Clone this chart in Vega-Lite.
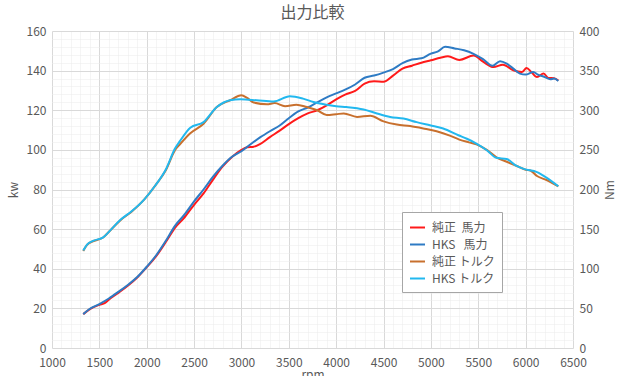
{
  "$schema": "https://vega.github.io/schema/vega-lite/v6.json",
  "width": 521,
  "height": 317,
  "autosize": {"type": "none"},
  "padding": {"left": 52, "top": 31, "right": 54, "bottom": 28},
  "background": "white",
  "title": {"text": "出力比較", "fontSize": 16, "fontWeight": "normal", "color": "#595959", "font": "Noto Sans CJK JP", "offset": 4, "anchor": "middle"},
  "config": {
    "view": {"stroke": null},
    "font": "Noto Sans CJK JP",
    "axis": {"labelFont": "Noto Sans CJK JP", "titleFont": "Noto Sans CJK JP", "labelFontSize": 12, "labelColor": "#595959", "titleFontSize": 12, "titleColor": "#595959", "titleFontWeight": "normal", "domain": false, "ticks": false, "labelOverlap": false, "labelFlush": false}
  },
  "datasets": {
    "power": [
      {"rpm": 1330, "kw": 17.1, "series": "純正\u00a0\u00a0馬力"},
      {"rpm": 1400, "kw": 19.6, "series": "純正\u00a0\u00a0馬力"},
      {"rpm": 1500, "kw": 21.8, "series": "純正\u00a0\u00a0馬力"},
      {"rpm": 1560, "kw": 22.8, "series": "純正\u00a0\u00a0馬力"},
      {"rpm": 1600, "kw": 24.4, "series": "純正\u00a0\u00a0馬力"},
      {"rpm": 1700, "kw": 27.8, "series": "純正\u00a0\u00a0馬力"},
      {"rpm": 1800, "kw": 31.4, "series": "純正\u00a0\u00a0馬力"},
      {"rpm": 1900, "kw": 35.6, "series": "純正\u00a0\u00a0馬力"},
      {"rpm": 2000, "kw": 40.8, "series": "純正\u00a0\u00a0馬力"},
      {"rpm": 2100, "kw": 46.4, "series": "純正\u00a0\u00a0馬力"},
      {"rpm": 2200, "kw": 53.4, "series": "純正\u00a0\u00a0馬力"},
      {"rpm": 2300, "kw": 60.8, "series": "純正\u00a0\u00a0馬力"},
      {"rpm": 2400, "kw": 66.0, "series": "純正\u00a0\u00a0馬力"},
      {"rpm": 2500, "kw": 72.3, "series": "純正\u00a0\u00a0馬力"},
      {"rpm": 2600, "kw": 78.0, "series": "純正\u00a0\u00a0馬力"},
      {"rpm": 2700, "kw": 85.0, "series": "純正\u00a0\u00a0馬力"},
      {"rpm": 2800, "kw": 91.5, "series": "純正\u00a0\u00a0馬力"},
      {"rpm": 2900, "kw": 96.4, "series": "純正\u00a0\u00a0馬力"},
      {"rpm": 3000, "kw": 100.0, "series": "純正\u00a0\u00a0馬力"},
      {"rpm": 3060, "kw": 101.3, "series": "純正\u00a0\u00a0馬力"},
      {"rpm": 3130, "kw": 101.6, "series": "純正\u00a0\u00a0馬力"},
      {"rpm": 3200, "kw": 103.0, "series": "純正\u00a0\u00a0馬力"},
      {"rpm": 3300, "kw": 106.4, "series": "純正\u00a0\u00a0馬力"},
      {"rpm": 3400, "kw": 109.6, "series": "純正\u00a0\u00a0馬力"},
      {"rpm": 3500, "kw": 113.0, "series": "純正\u00a0\u00a0馬力"},
      {"rpm": 3600, "kw": 116.0, "series": "純正\u00a0\u00a0馬力"},
      {"rpm": 3700, "kw": 118.4, "series": "純正\u00a0\u00a0馬力"},
      {"rpm": 3800, "kw": 120.0, "series": "純正\u00a0\u00a0馬力"},
      {"rpm": 3900, "kw": 122.5, "series": "純正\u00a0\u00a0馬力"},
      {"rpm": 4000, "kw": 125.5, "series": "純正\u00a0\u00a0馬力"},
      {"rpm": 4100, "kw": 128.0, "series": "純正\u00a0\u00a0馬力"},
      {"rpm": 4200, "kw": 129.8, "series": "純正\u00a0\u00a0馬力"},
      {"rpm": 4300, "kw": 133.4, "series": "純正\u00a0\u00a0馬力"},
      {"rpm": 4400, "kw": 134.6, "series": "純正\u00a0\u00a0馬力"},
      {"rpm": 4500, "kw": 134.4, "series": "純正\u00a0\u00a0馬力"},
      {"rpm": 4600, "kw": 137.5, "series": "純正\u00a0\u00a0馬力"},
      {"rpm": 4700, "kw": 141.0, "series": "純正\u00a0\u00a0馬力"},
      {"rpm": 4800, "kw": 142.5, "series": "純正\u00a0\u00a0馬力"},
      {"rpm": 4900, "kw": 144.0, "series": "純正\u00a0\u00a0馬力"},
      {"rpm": 5000, "kw": 145.2, "series": "純正\u00a0\u00a0馬力"},
      {"rpm": 5100, "kw": 146.5, "series": "純正\u00a0\u00a0馬力"},
      {"rpm": 5180, "kw": 147.3, "series": "純正\u00a0\u00a0馬力"},
      {"rpm": 5300, "kw": 145.4, "series": "純正\u00a0\u00a0馬力"},
      {"rpm": 5450, "kw": 147.6, "series": "純正\u00a0\u00a0馬力"},
      {"rpm": 5550, "kw": 144.5, "series": "純正\u00a0\u00a0馬力"},
      {"rpm": 5660, "kw": 141.8, "series": "純正\u00a0\u00a0馬力"},
      {"rpm": 5760, "kw": 143.0, "series": "純正\u00a0\u00a0馬力"},
      {"rpm": 5870, "kw": 140.2, "series": "純正\u00a0\u00a0馬力"},
      {"rpm": 5960, "kw": 139.3, "series": "純正\u00a0\u00a0馬力"},
      {"rpm": 6010, "kw": 141.3, "series": "純正\u00a0\u00a0馬力"},
      {"rpm": 6060, "kw": 139.3, "series": "純正\u00a0\u00a0馬力"},
      {"rpm": 6120, "kw": 136.8, "series": "純正\u00a0\u00a0馬力"},
      {"rpm": 6190, "kw": 138.5, "series": "純正\u00a0\u00a0馬力"},
      {"rpm": 6240, "kw": 136.3, "series": "純正\u00a0\u00a0馬力"},
      {"rpm": 6300, "kw": 136.2, "series": "純正\u00a0\u00a0馬力"},
      {"rpm": 6345, "kw": 135.0, "series": "純正\u00a0\u00a0馬力"},
      {"rpm": 1330, "kw": 17.1, "series": "HKS\u00a0\u00a0\u00a0馬力"},
      {"rpm": 1400, "kw": 19.8, "series": "HKS\u00a0\u00a0\u00a0馬力"},
      {"rpm": 1500, "kw": 22.2, "series": "HKS\u00a0\u00a0\u00a0馬力"},
      {"rpm": 1600, "kw": 25.0, "series": "HKS\u00a0\u00a0\u00a0馬力"},
      {"rpm": 1700, "kw": 28.3, "series": "HKS\u00a0\u00a0\u00a0馬力"},
      {"rpm": 1800, "kw": 31.8, "series": "HKS\u00a0\u00a0\u00a0馬力"},
      {"rpm": 1900, "kw": 35.8, "series": "HKS\u00a0\u00a0\u00a0馬力"},
      {"rpm": 2000, "kw": 41.0, "series": "HKS\u00a0\u00a0\u00a0馬力"},
      {"rpm": 2100, "kw": 46.8, "series": "HKS\u00a0\u00a0\u00a0馬力"},
      {"rpm": 2200, "kw": 54.0, "series": "HKS\u00a0\u00a0\u00a0馬力"},
      {"rpm": 2300, "kw": 61.8, "series": "HKS\u00a0\u00a0\u00a0馬力"},
      {"rpm": 2400, "kw": 67.4, "series": "HKS\u00a0\u00a0\u00a0馬力"},
      {"rpm": 2500, "kw": 74.0, "series": "HKS\u00a0\u00a0\u00a0馬力"},
      {"rpm": 2600, "kw": 80.0, "series": "HKS\u00a0\u00a0\u00a0馬力"},
      {"rpm": 2700, "kw": 86.5, "series": "HKS\u00a0\u00a0\u00a0馬力"},
      {"rpm": 2800, "kw": 92.0, "series": "HKS\u00a0\u00a0\u00a0馬力"},
      {"rpm": 2900, "kw": 96.5, "series": "HKS\u00a0\u00a0\u00a0馬力"},
      {"rpm": 3000, "kw": 99.3, "series": "HKS\u00a0\u00a0\u00a0馬力"},
      {"rpm": 3100, "kw": 103.0, "series": "HKS\u00a0\u00a0\u00a0馬力"},
      {"rpm": 3200, "kw": 106.4, "series": "HKS\u00a0\u00a0\u00a0馬力"},
      {"rpm": 3300, "kw": 109.4, "series": "HKS\u00a0\u00a0\u00a0馬力"},
      {"rpm": 3400, "kw": 112.2, "series": "HKS\u00a0\u00a0\u00a0馬力"},
      {"rpm": 3500, "kw": 116.0, "series": "HKS\u00a0\u00a0\u00a0馬力"},
      {"rpm": 3600, "kw": 119.4, "series": "HKS\u00a0\u00a0\u00a0馬力"},
      {"rpm": 3700, "kw": 121.4, "series": "HKS\u00a0\u00a0\u00a0馬力"},
      {"rpm": 3800, "kw": 124.0, "series": "HKS\u00a0\u00a0\u00a0馬力"},
      {"rpm": 3900, "kw": 126.5, "series": "HKS\u00a0\u00a0\u00a0馬力"},
      {"rpm": 4000, "kw": 128.5, "series": "HKS\u00a0\u00a0\u00a0馬力"},
      {"rpm": 4100, "kw": 130.5, "series": "HKS\u00a0\u00a0\u00a0馬力"},
      {"rpm": 4200, "kw": 133.0, "series": "HKS\u00a0\u00a0\u00a0馬力"},
      {"rpm": 4300, "kw": 136.4, "series": "HKS\u00a0\u00a0\u00a0馬力"},
      {"rpm": 4400, "kw": 137.5, "series": "HKS\u00a0\u00a0\u00a0馬力"},
      {"rpm": 4500, "kw": 139.0, "series": "HKS\u00a0\u00a0\u00a0馬力"},
      {"rpm": 4600, "kw": 140.8, "series": "HKS\u00a0\u00a0\u00a0馬力"},
      {"rpm": 4700, "kw": 143.8, "series": "HKS\u00a0\u00a0\u00a0馬力"},
      {"rpm": 4800, "kw": 145.6, "series": "HKS\u00a0\u00a0\u00a0馬力"},
      {"rpm": 4900, "kw": 146.2, "series": "HKS\u00a0\u00a0\u00a0馬力"},
      {"rpm": 5000, "kw": 148.6, "series": "HKS\u00a0\u00a0\u00a0馬力"},
      {"rpm": 5070, "kw": 149.6, "series": "HKS\u00a0\u00a0\u00a0馬力"},
      {"rpm": 5150, "kw": 152.0, "series": "HKS\u00a0\u00a0\u00a0馬力"},
      {"rpm": 5250, "kw": 151.2, "series": "HKS\u00a0\u00a0\u00a0馬力"},
      {"rpm": 5350, "kw": 150.3, "series": "HKS\u00a0\u00a0\u00a0馬力"},
      {"rpm": 5450, "kw": 148.5, "series": "HKS\u00a0\u00a0\u00a0馬力"},
      {"rpm": 5550, "kw": 145.8, "series": "HKS\u00a0\u00a0\u00a0馬力"},
      {"rpm": 5650, "kw": 142.4, "series": "HKS\u00a0\u00a0\u00a0馬力"},
      {"rpm": 5730, "kw": 144.7, "series": "HKS\u00a0\u00a0\u00a0馬力"},
      {"rpm": 5800, "kw": 143.5, "series": "HKS\u00a0\u00a0\u00a0馬力"},
      {"rpm": 5870, "kw": 141.0, "series": "HKS\u00a0\u00a0\u00a0馬力"},
      {"rpm": 5940, "kw": 138.5, "series": "HKS\u00a0\u00a0\u00a0馬力"},
      {"rpm": 6000, "kw": 138.0, "series": "HKS\u00a0\u00a0\u00a0馬力"},
      {"rpm": 6080, "kw": 139.3, "series": "HKS\u00a0\u00a0\u00a0馬力"},
      {"rpm": 6130, "kw": 138.0, "series": "HKS\u00a0\u00a0\u00a0馬力"},
      {"rpm": 6200, "kw": 136.8, "series": "HKS\u00a0\u00a0\u00a0馬力"},
      {"rpm": 6260, "kw": 135.6, "series": "HKS\u00a0\u00a0\u00a0馬力"},
      {"rpm": 6300, "kw": 136.0, "series": "HKS\u00a0\u00a0\u00a0馬力"},
      {"rpm": 6345, "kw": 134.8, "series": "HKS\u00a0\u00a0\u00a0馬力"}
    ],
    "torque": [
      {"rpm": 1330, "nm": 122.5, "series": "純正 トルク"},
      {"rpm": 1370, "nm": 130, "series": "純正 トルク"},
      {"rpm": 1440, "nm": 135, "series": "純正 トルク"},
      {"rpm": 1540, "nm": 139.5, "series": "純正 トルク"},
      {"rpm": 1620, "nm": 149, "series": "純正 トルク"},
      {"rpm": 1720, "nm": 161, "series": "純正 トルク"},
      {"rpm": 1840, "nm": 172, "series": "純正 トルク"},
      {"rpm": 1970, "nm": 187, "series": "純正 トルク"},
      {"rpm": 2090, "nm": 205, "series": "純正 トルク"},
      {"rpm": 2200, "nm": 224, "series": "純正 トルク"},
      {"rpm": 2300, "nm": 250, "series": "純正 トルク"},
      {"rpm": 2350, "nm": 257, "series": "純正 トルク"},
      {"rpm": 2460, "nm": 271, "series": "純正 トルク"},
      {"rpm": 2600, "nm": 283, "series": "純正 トルク"},
      {"rpm": 2740, "nm": 304, "series": "純正 トルク"},
      {"rpm": 2880, "nm": 312.6, "series": "純正 トルク"},
      {"rpm": 3000, "nm": 319, "series": "純正 トルク"},
      {"rpm": 3060, "nm": 315.6, "series": "純正 トルク"},
      {"rpm": 3130, "nm": 309.7, "series": "純正 トルク"},
      {"rpm": 3270, "nm": 307.5, "series": "純正 トルク"},
      {"rpm": 3350, "nm": 309, "series": "純正 トルク"},
      {"rpm": 3460, "nm": 305, "series": "純正 トルク"},
      {"rpm": 3580, "nm": 307, "series": "純正 トルク"},
      {"rpm": 3690, "nm": 304, "series": "純正 トルク"},
      {"rpm": 3800, "nm": 300, "series": "純正 トルク"},
      {"rpm": 3900, "nm": 294, "series": "純正 トルク"},
      {"rpm": 4000, "nm": 295, "series": "純正 トルク"},
      {"rpm": 4080, "nm": 296, "series": "純正 トルク"},
      {"rpm": 4220, "nm": 291.6, "series": "純正 トルク"},
      {"rpm": 4360, "nm": 293, "series": "純正 トルク"},
      {"rpm": 4500, "nm": 286, "series": "純正 トルク"},
      {"rpm": 4640, "nm": 282, "series": "純正 トルク"},
      {"rpm": 4780, "nm": 280, "series": "純正 トルク"},
      {"rpm": 4920, "nm": 277, "series": "純正 トルク"},
      {"rpm": 5060, "nm": 273.5, "series": "純正 トルク"},
      {"rpm": 5200, "nm": 268, "series": "純正 トルク"},
      {"rpm": 5300, "nm": 263, "series": "純正 トルク"},
      {"rpm": 5400, "nm": 259.5, "series": "純正 トルク"},
      {"rpm": 5480, "nm": 257, "series": "純正 トルク"},
      {"rpm": 5590, "nm": 250, "series": "純正 トルク"},
      {"rpm": 5700, "nm": 240, "series": "純正 トルク"},
      {"rpm": 5800, "nm": 235, "series": "純正 トルク"},
      {"rpm": 5900, "nm": 230, "series": "純正 トルク"},
      {"rpm": 6000, "nm": 225, "series": "純正 トルク"},
      {"rpm": 6050, "nm": 224, "series": "純正 トルク"},
      {"rpm": 6120, "nm": 217, "series": "純正 トルク"},
      {"rpm": 6220, "nm": 212, "series": "純正 トルク"},
      {"rpm": 6345, "nm": 204, "series": "純正 トルク"},
      {"rpm": 1330, "nm": 123, "series": "HKS トルク"},
      {"rpm": 1370, "nm": 130.5, "series": "HKS トルク"},
      {"rpm": 1440, "nm": 135.5, "series": "HKS トルク"},
      {"rpm": 1540, "nm": 139.5, "series": "HKS トルク"},
      {"rpm": 1620, "nm": 149, "series": "HKS トルク"},
      {"rpm": 1720, "nm": 161.5, "series": "HKS トルク"},
      {"rpm": 1840, "nm": 172.5, "series": "HKS トルク"},
      {"rpm": 1970, "nm": 187, "series": "HKS トルク"},
      {"rpm": 2090, "nm": 205, "series": "HKS トルク"},
      {"rpm": 2200, "nm": 225, "series": "HKS トルク"},
      {"rpm": 2300, "nm": 252, "series": "HKS トルク"},
      {"rpm": 2350, "nm": 261, "series": "HKS トルク"},
      {"rpm": 2460, "nm": 278, "series": "HKS トルク"},
      {"rpm": 2600, "nm": 285, "series": "HKS トルク"},
      {"rpm": 2740, "nm": 304, "series": "HKS トルク"},
      {"rpm": 2880, "nm": 312.6, "series": "HKS トルク"},
      {"rpm": 2990, "nm": 313.8, "series": "HKS トルク"},
      {"rpm": 3160, "nm": 312.6, "series": "HKS トルク"},
      {"rpm": 3340, "nm": 311, "series": "HKS トルク"},
      {"rpm": 3510, "nm": 317.6, "series": "HKS トルク"},
      {"rpm": 3650, "nm": 314.7, "series": "HKS トルク"},
      {"rpm": 3760, "nm": 310.5, "series": "HKS トルク"},
      {"rpm": 3900, "nm": 307, "series": "HKS トルク"},
      {"rpm": 4000, "nm": 305, "series": "HKS トルク"},
      {"rpm": 4110, "nm": 304, "series": "HKS トルク"},
      {"rpm": 4290, "nm": 301, "series": "HKS トルク"},
      {"rpm": 4430, "nm": 296, "series": "HKS トルク"},
      {"rpm": 4570, "nm": 291.6, "series": "HKS トルク"},
      {"rpm": 4710, "nm": 289.5, "series": "HKS トルク"},
      {"rpm": 4850, "nm": 285, "series": "HKS トルク"},
      {"rpm": 4990, "nm": 281, "series": "HKS トルク"},
      {"rpm": 5130, "nm": 277, "series": "HKS トルク"},
      {"rpm": 5290, "nm": 268.5, "series": "HKS トルク"},
      {"rpm": 5380, "nm": 264, "series": "HKS トルク"},
      {"rpm": 5480, "nm": 258, "series": "HKS トルク"},
      {"rpm": 5590, "nm": 249.6, "series": "HKS トルク"},
      {"rpm": 5690, "nm": 240, "series": "HKS トルク"},
      {"rpm": 5800, "nm": 238.5, "series": "HKS トルク"},
      {"rpm": 5900, "nm": 230, "series": "HKS トルク"},
      {"rpm": 5980, "nm": 226, "series": "HKS トルク"},
      {"rpm": 6120, "nm": 222, "series": "HKS トルク"},
      {"rpm": 6220, "nm": 215, "series": "HKS トルク"},
      {"rpm": 6345, "nm": 204, "series": "HKS トルク"}
    ]
  },
  "encoding": {
    "x": {"field": "rpm", "type": "quantitative", "scale": {"domain": [1000, 6500], "nice": false},
      "axis": {"title": "rpm", "values": [1000,1100,1200,1300,1400,1500,1600,1700,1800,1900,2000,2100,2200,2300,2400,2500,2600,2700,2800,2900,3000,3100,3200,3300,3400,3500,3600,3700,3800,3900,4000,4100,4200,4300,4400,4500,4600,4700,4800,4900,5000,5100,5200,5300,5400,5500,5600,5700,5800,5900,6000,6100,6200,6300,6400,6500],
        "labelExpr": "datum.value % 500 === 0 ? datum.label : ''", "format": "d", "labelPadding": 9, "titlePadding": 1,
        "grid": true,
        "gridColor": {"condition": {"test": "datum.value % 500 === 0", "value": "#d9d9d9"}, "value": "#ebebeb"},
        "gridDash": {"condition": {"test": "datum.value % 500 === 0", "value": []}, "value": [1, 1]}}},
    "color": {"field": "series", "type": "nominal",
      "scale": {"domain": ["純正\u00a0\u00a0馬力", "HKS\u00a0\u00a0\u00a0馬力", "純正 トルク", "HKS トルク"], "range": ["#ff1a1a", "#2e7bc4", "#c8702e", "#22b8ef"]},
      "legend": {"title": null, "orient": "none", "legendX": 350, "legendY": 181, "strokeColor": "#a6a6a6", "fillColor": "white", "padding": 7, "symbolType": "stroke", "symbolSize": 225, "symbolStrokeWidth": 2, "labelFontSize": 12, "labelColor": "#595959", "labelFont": "Noto Sans CJK JP", "rowPadding": 2, "labelOffset": 6}}
  },
  "layer": [
    {
      "data": {"name": "power"},
      "mark": {"type": "line", "strokeWidth": 2, "interpolate": "monotone"},
      "encoding": {
        "y": {"field": "kw", "type": "quantitative", "scale": {"domain": [0, 160], "nice": false},
          "axis": {"title": "kw", "orient": "left", "values": [0,4,8,12,16,20,24,28,32,36,40,44,48,52,56,60,64,68,72,76,80,84,88,92,96,100,104,108,112,116,120,124,128,132,136,140,144,148,152,156,160],
            "labelExpr": "datum.value % 20 === 0 ? datum.label : ''", "labelPadding": 6, "titlePadding": 6,
            "grid": true,
            "gridColor": {"condition": {"test": "datum.value % 20 === 0", "value": "#d9d9d9"}, "value": "#ebebeb"},
            "gridDash": {"condition": {"test": "datum.value % 20 === 0", "value": []}, "value": [1, 1]}}}
      }
    },
    {
      "data": {"name": "torque"},
      "mark": {"type": "line", "strokeWidth": 2, "interpolate": "monotone"},
      "encoding": {
        "y": {"field": "nm", "type": "quantitative", "scale": {"domain": [0, 400], "nice": false},
          "axis": {"title": "Nm", "orient": "right", "values": [0,50,100,150,200,250,300,350,400], "grid": false, "labelPadding": 6, "titlePadding": 6, "titleAngle": -90, "titleBaseline": "top"}}
      }
    }
  ],
  "resolve": {"scale": {"y": "independent"}}
}
